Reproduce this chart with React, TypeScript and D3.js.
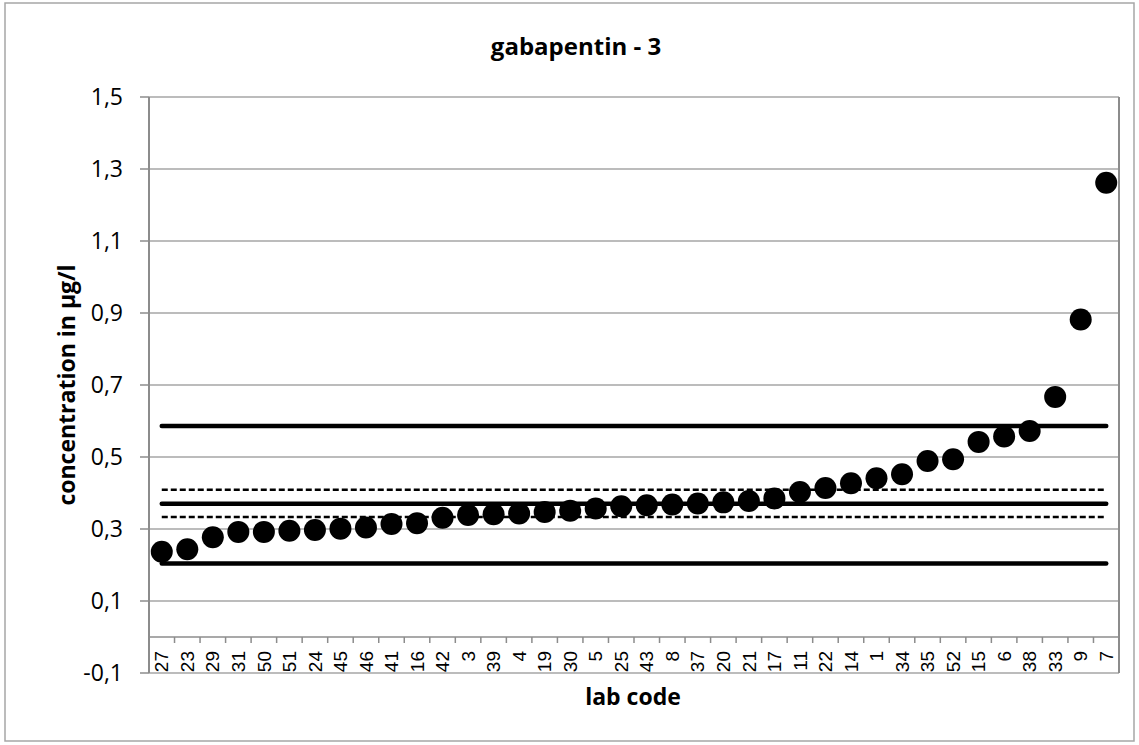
import React from "react";
import * as d3 from "d3";

const labCodes = ["27","23","29","31","50","51","24","45","46","41","16","42","3","39","4","19","30","5","25","43","8","37","20","21","17","11","22","14","1","34","35","52","15","6","38","33","9","7"];
const concentrations = [0.237,0.244,0.277,0.292,0.292,0.295,0.297,0.301,0.304,0.314,0.316,0.331,0.339,0.341,0.343,0.347,0.351,0.357,0.363,0.366,0.368,0.371,0.374,0.378,0.385,0.403,0.414,0.427,0.441,0.452,0.489,0.494,0.542,0.557,0.572,0.667,0.882,1.262];
const solidLines = [0.204, 0.370, 0.586];
const dashedLines = [0.333, 0.409];
const yTicks = [-0.1, 0.1, 0.3, 0.5, 0.7, 0.9, 1.1, 1.3, 1.5];
const title = "gabapentin - 3";
const xTitle = "lab code";
const yTitle = "concentration in µg/l";

export default function App() {
  const W = 1139, H = 745;
  const L = 149, T = 97, R = 1119, B = 673;
  const y = d3.scaleLinear().domain([-0.1, 1.5]).range([B, T]);
  const x = d3.scaleBand<string>().domain(labCodes).range([L, R]).padding(0);
  const cx = (c: string) => (x(c) as number) + x.bandwidth() / 2;
  const x0 = cx(labCodes[0]);
  const x1 = cx(labCodes[labCodes.length - 1]);
  const fmt = (v: number) => d3.format(".1f")(v).replace(".", ",").replace("−", "-");
  const axisY = y(0);
  const font = "'Open Sans', sans-serif";
  const grid = "#A6A6A6";
  return (
    <svg width={W} height={H} style={{ position: "absolute", left: 0, top: 0, background: "#fff" }}>
      <rect x={5} y={3} width={1129} height={738} fill="#fff" stroke="#A6A6A6" strokeWidth={1.5} />
      {yTicks.map((t) => (
        <line key={"g" + t} x1={L} x2={R} y1={y(t)} y2={y(t)} stroke={grid} strokeWidth={1.5} />
      ))}
      <line x1={R} x2={R} y1={T} y2={B} stroke="#8C8C8C" strokeWidth={2} />
      <line x1={L} x2={L} y1={T} y2={B} stroke="#8C8C8C" strokeWidth={2} />
      {yTicks.map((t) => (
        <line key={"yt" + t} x1={L - 9} x2={L} y1={y(t)} y2={y(t)} stroke="#8C8C8C" strokeWidth={1.5} />
      ))}
      {yTicks.map((t) => (
        <text key={"yl" + t} x={123} y={y(t)} dy="0.35em" textAnchor="end" fontFamily={font} fontSize={23} fill="#000">
          {fmt(t)}
        </text>
      ))}
      <line x1={L} x2={R} y1={axisY} y2={axisY} stroke="#8C8C8C" strokeWidth={1.5} />
      {labCodes.map((c) => (
        <line key={"xt" + c} x1={(x(c) as number)} x2={(x(c) as number)} y1={axisY} y2={axisY + 6} stroke="#8C8C8C" strokeWidth={1.5} />
      ))}
      <line x1={R} x2={R} y1={axisY} y2={axisY + 6} stroke="#8C8C8C" strokeWidth={1.5} />
      {labCodes.map((c) => (
        <text key={"xl" + c} transform={`translate(${cx(c)},${axisY + 14}) rotate(-90)`} textAnchor="end" dy="0.35em"
          fontFamily="'Liberation Sans', Arial, sans-serif" fontSize={19} fill="#000">
          {c}
        </text>
      ))}
      {solidLines.map((v) => (
        <line key={"s" + v} x1={x0} x2={x1} y1={y(v)} y2={y(v)} stroke="#000" strokeWidth={4.5} strokeLinecap="round" />
      ))}
      {dashedLines.map((v) => (
        <line key={"d" + v} x1={x0} x2={x1} y1={y(v)} y2={y(v)} stroke="#000" strokeWidth={2.5} strokeDasharray="6,3" />
      ))}
      {labCodes.map((c, i) => (
        <circle key={"p" + c} cx={cx(c)} cy={y(concentrations[i])} r={11} fill="#000" />
      ))}
      <text x={576} y={55} textAnchor="middle" fontFamily={font} fontWeight="bold" fontSize={24} fill="#000">{title}</text>
      <text x={633} y={705} textAnchor="middle" fontFamily={font} fontWeight="bold" fontSize={23} fill="#000">{xTitle}</text>
      <text transform={`translate(${67},${(T + B) / 2}) rotate(-90)`} textAnchor="middle" dy="0.35em" fontFamily={font} fontWeight="bold" fontSize={23} fill="#000">{yTitle}</text>
    </svg>
  );
}
